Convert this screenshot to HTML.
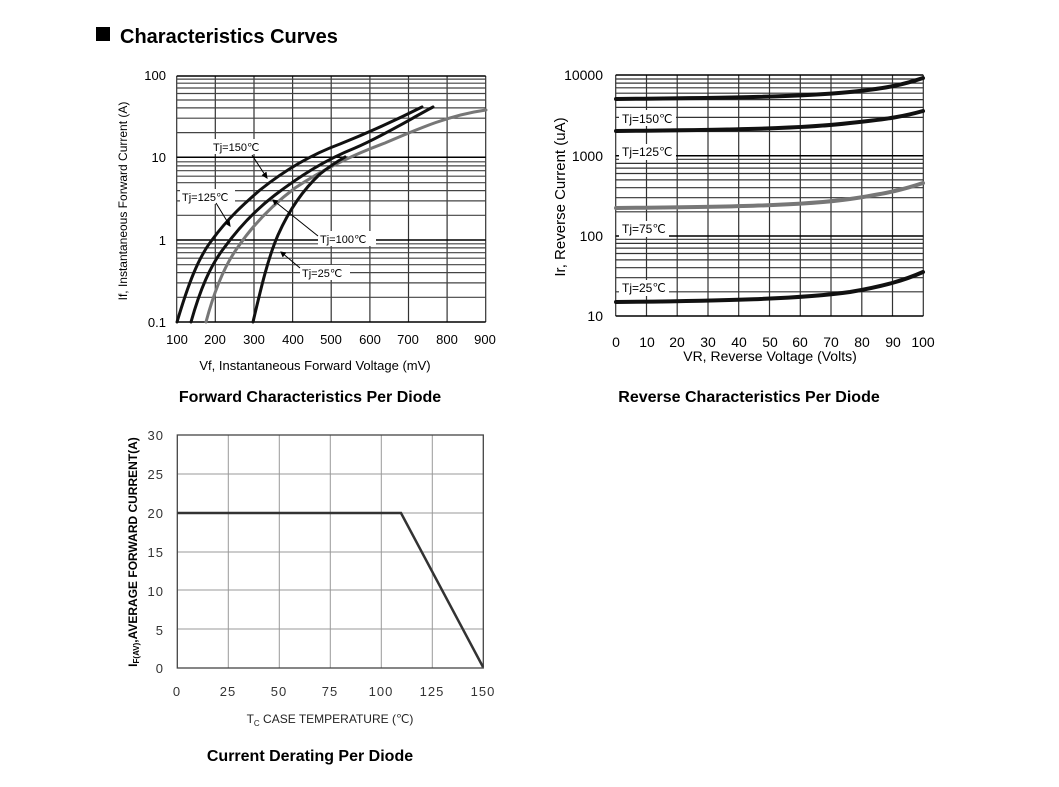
<!DOCTYPE html><html><head><meta charset="utf-8"><style>body{margin:0;background:#fff}svg{display:block}</style></head><body>
<svg width="1059" height="787" xmlns="http://www.w3.org/2000/svg" font-family="Liberation Sans, sans-serif">
<rect width="1059" height="787" fill="#fff"/>
<rect x="96" y="27" width="14" height="14" fill="#000"/>
<text x="120" y="43" font-size="20" font-weight="bold">Characteristics Curves</text>
<g stroke="#333" stroke-width="1.2">
<path d="M176.7 76V322M215.3 76V322M254 76V322M292.6 76V322M331.2 76V322M369.9 76V322M408.5 76V322M447.1 76V322M485.7 76V322"/>
<path d="M176.7 76H485.7M176.7 157.3H485.7M176.7 240H485.7M176.7 322H485.7" stroke="#000" stroke-width="1.5"/>
<path stroke="#444" d="M176.7 297.3H485.7M176.7 282.9H485.7M176.7 272.6H485.7M176.7 264.7H485.7M176.7 258.2H485.7M176.7 252.7H485.7M176.7 247.9H485.7M176.7 243.8H485.7
M176.7 215.3H485.7M176.7 200.9H485.7M176.7 190.6H485.7M176.7 182.7H485.7M176.7 176.2H485.7M176.7 170.7H485.7M176.7 165.9H485.7M176.7 161.8H485.7
M176.7 132.6H485.7M176.7 118.2H485.7M176.7 107.9H485.7M176.7 100H485.7M176.7 93.5H485.7M176.7 88H485.7M176.7 83.2H485.7M176.7 79.1H485.7"/>
</g>
<g font-size="13" text-anchor="middle" fill="#000">
<text x="177" y="344">100</text><text x="215" y="344">200</text><text x="254" y="344">300</text><text x="293" y="344">400</text><text x="331" y="344">500</text><text x="370" y="344">600</text><text x="408" y="344">700</text><text x="447" y="344">800</text><text x="485" y="344">900</text>
<text x="315" y="370" font-size="13">Vf, Instantaneous  Forward  Voltage (mV)</text>
<text x="127" y="201" transform="rotate(-90 127 201)" font-size="12" text-anchor="middle">If, Instantaneous Forward Current (A)</text>
</g>
<g font-size="13" text-anchor="end"><text x="166" y="80">100</text><text x="166" y="162">10</text><text x="166" y="245">1</text><text x="166" y="327">0.1</text></g>
<g fill="none" stroke-width="3" stroke-linecap="round" stroke-linejoin="round">
<path stroke="#111" d="M177 322C188 285 198 258 212 240C228 218 245 203 260 190C285 170 310 155 340 144C370 132 400 118 422 107"/>
<path stroke="#111" d="M191 322C200 290 210 266 224 248C240 226 258 208 275 195C300 176 325 160 355 148C385 135 412 118 433 107"/>
<path stroke="#777" d="M206 322C214 292 224 266 238 247C255 222 275 203 295 188C325 168 355 154 385 143C420 128 450 115 486 110"/>
<path stroke="#111" d="M253 322C261 288 268 258 278 235C290 208 305 188 320 174C330 166 338 161 345 157"/>
</g>
<g font-size="11" stroke="none">
<rect x="211" y="139" width="55" height="15" fill="#fff"/><text x="213" y="151">Tj=150℃</text>
<rect x="180" y="189" width="55" height="15" fill="#fff"/><text x="182" y="201">Tj=125℃</text>
<rect x="318" y="231" width="58" height="15" fill="#fff"/><text x="320" y="243">Tj=100℃</text>
<rect x="300" y="265" width="50" height="15" fill="#fff"/><text x="302" y="277">Tj=25℃</text>
</g>
<g stroke="#000" stroke-width="1">
<path d="M252 155L267 178M266 172l1 6-5-3"/><path d="M216 203L230 226M229 220l1 6-5-3"/><path d="M318 236L273 200M278 201l-5-1 2 5"/><path d="M300 268L281 252M286 253l-5-1 2 5"/>
</g>
<g stroke="#333" stroke-width="1.2">
<path d="M615.7 75V316M646.5 75V316M677.2 75V316M708 75V316M738.7 75V316M769.5 75V316M800.3 75V316M831 75V316M861.8 75V316M892.5 75V316M923.3 75V316"/>
<path stroke="#000" stroke-width="1.5" d="M615.7 75H923.3M615.7 155.7H923.3M615.7 236H923.3M615.7 316H923.3"/>
<path d="M615.7 291.8H923.3M615.7 277.7H923.3M615.7 267.7H923.3M615.7 259.9H923.3M615.7 253.5H923.3M615.7 248.1H923.3M615.7 243.4H923.3M615.7 239.3H923.3
M615.7 211.8H923.3M615.7 197.7H923.3M615.7 187.7H923.3M615.7 179.9H923.3M615.7 173.5H923.3M615.7 168.1H923.3M615.7 163.4H923.3M615.7 159.3H923.3
M615.7 131.5H923.3M615.7 117.4H923.3M615.7 107.4H923.3M615.7 99.6H923.3M615.7 93.2H923.3M615.7 87.8H923.3M615.7 83.1H923.3M615.7 79H923.3"/>
</g>
<g font-size="14" text-anchor="middle">
<text x="616" y="347">0</text><text x="647" y="347">10</text><text x="677" y="347">20</text><text x="708" y="347">30</text><text x="739" y="347">40</text><text x="770" y="347">50</text><text x="800" y="347">60</text><text x="831" y="347">70</text><text x="862" y="347">80</text><text x="893" y="347">90</text><text x="923" y="347">100</text>
<text x="770" y="361">VR, Reverse Voltage (Volts)</text>
<text x="565" y="197" transform="rotate(-90 565 197)" font-size="15">Ir, Reverse Current (uA)</text>
</g>
<g font-size="14" text-anchor="end"><text x="603" y="80">10000</text><text x="603" y="161">1000</text><text x="603" y="241">100</text><text x="603" y="321">10</text></g>
<g fill="none" stroke-width="4" stroke-linecap="round">
<path stroke="#111" d="M616 99C720 98 800 97 850 92C890 88 905 84 923 78"/>
<path stroke="#111" d="M616 131C720 130 800 129 850 123C890 119 905 116 923 111"/>
<path stroke="#777" d="M616 208C720 207 800 206 850 199C890 193 905 189 923 183"/>
<path stroke="#111" d="M616 302C720 301 800 299 850 292C885 286 905 280 923 272"/>
</g>
<g font-size="12">
<rect x="619" y="110" width="57" height="16" fill="#fff"/><text x="622" y="123">Tj=150℃</text>
<rect x="619" y="144" width="57" height="16" fill="#fff"/><text x="622" y="156">Tj=125℃</text>
<rect x="619" y="221" width="50" height="16" fill="#fff"/><text x="622" y="233">Tj=75℃</text>
<rect x="619" y="280" width="50" height="16" fill="#fff"/><text x="622" y="292">Tj=25℃</text>
</g>
<text x="310" y="402" font-size="16" font-weight="bold" text-anchor="middle">Forward Characteristics Per Diode</text>
<text x="749" y="402" font-size="16" font-weight="bold" text-anchor="middle">Reverse Characteristics Per Diode</text>
<g stroke="#999" stroke-width="1">
<path d="M228.3 435V668M279.3 435V668M330.3 435V668M381.3 435V668M432.3 435V668M177.3 474H483.3M177.3 513H483.3M177.3 552H483.3M177.3 590H483.3M177.3 629H483.3"/>
</g>
<rect x="177.3" y="435" width="306" height="233" fill="none" stroke="#444" stroke-width="1.3"/>
<path d="M177.3 513H401L483 667" fill="none" stroke="#333" stroke-width="2.5"/>
<g font-size="13" fill="#333" text-anchor="end" letter-spacing="1"><text x="164" y="440">30</text><text x="164" y="479">25</text><text x="164" y="518">20</text><text x="164" y="557">15</text><text x="164" y="596">10</text><text x="164" y="635">5</text><text x="164" y="673">0</text></g>
<g font-size="13" fill="#333" text-anchor="middle" letter-spacing="1"><text x="177" y="696">0</text><text x="228" y="696">25</text><text x="279" y="696">50</text><text x="330" y="696">75</text><text x="381" y="696">100</text><text x="432" y="696">125</text><text x="483" y="696">150</text></g>
<text x="330" y="723" font-size="12" fill="#222" text-anchor="middle">T<tspan font-size="8" dy="3">C</tspan><tspan dy="-3"> CASE TEMPERATURE  (℃)</tspan></text>
<text x="137" y="552" transform="rotate(-90 137 552)" font-size="12" font-weight="bold" text-anchor="middle">I<tspan font-size="8" dy="2">F(AV)</tspan><tspan dy="-2">,AVERAGE FORWARD CURRENT(A)</tspan></text>
<text x="310" y="761" font-size="16" font-weight="bold" text-anchor="middle">Current Derating Per Diode</text>
</svg></body></html>
